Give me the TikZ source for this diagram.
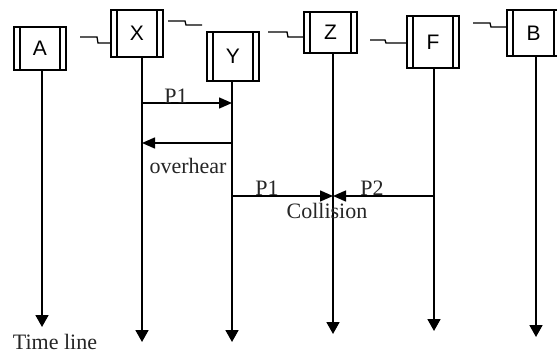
\documentclass[tikz,border=0pt]{standalone}
\usepackage{fontspec}
\setmainfont{Liberation Serif}
\setsansfont{Liberation Sans}
\usetikzlibrary{arrows.meta}
\newcommand\boxbars[1]{%
  \draw[line width=1.6pt] ([xshift=6pt]#1.north west) -- ([xshift=6pt]#1.south west);
  \draw[line width=1.6pt] ([xshift=-6pt]#1.north east) -- ([xshift=-6pt]#1.south east);}
\begin{document}
\begin{tikzpicture}[x=1pt,y=-1pt,
  box/.style={draw, line width=1.3pt, inner sep=0pt, outer sep=0pt,
    font=\sffamily\fontsize{21}{21}\selectfont},
  life/.style={line width=1.8pt, -{Triangle[width=13pt,length=12pt]}},
  msg/.style={line width=1.4pt, -{Triangle[width=11pt,length=13pt]}},
  sig/.style={line width=1.3pt},
  lbl/.style={font=\fontsize{22}{22}\selectfont, text=black!85, inner sep=0pt}]
\clip (0,0) rectangle (557,353);
\useasboundingbox (0,0) rectangle (557,353);
\fill[white] (0,0) rectangle (557,353);

% boxes
\node[box, minimum width=52pt, minimum height=43pt] (A) at (40,48.5) {A};
\node[box, minimum width=52pt, minimum height=47pt] (X) at (137,33.5) {X};
\node[box, minimum width=52pt, minimum height=49pt] (Y) at (233,56.5) {Y};
\node[box, minimum width=53pt, minimum height=41pt] (Z) at (330.5,32.5) {Z};
\node[box, minimum width=52pt, minimum height=52pt] (F) at (433,42) {F};
\node[box, minimum width=53pt, minimum height=46pt] (B) at (533.5,33) {B};
\boxbars{A}\boxbars{X}\boxbars{Y}\boxbars{Z}\boxbars{F}\boxbars{B}

% step signals
\draw[sig] (80,37) -- (97,37) -- (98,43) -- (110,43);
\draw[sig] (168,21) -- (185,21) -- (186,25) -- (202,25);
\draw[sig] (268,32) -- (287,32) -- (288,37) -- (304,37);
\draw[sig] (370,40) -- (385,40) -- (386,43) -- (407,43);
\draw[sig] (473,23) -- (490,23) -- (491,27) -- (507,27);

% lifelines
\coordinate (Ae) at (42,327);
\coordinate (Xe) at (142,342);
\coordinate (Ye) at (232,342);
\coordinate (Ze) at (333,334);
\coordinate (Fe) at (434,331);
\coordinate (Be) at (536,337);
\draw[life] (A.south -| Ae) -- (Ae);
\draw[life] (X.south -| Xe) -- (Xe);
\draw[life] (Y.south -| Ye) -- (Ye);
\draw[life] (Z.south -| Ze) -- (Ze);
\draw[life] (F.south -| Fe) -- (Fe);
\draw[life] (B.south -| Be) -- (Be);

% messages
\coordinate (m1x) at (142,103);
\coordinate (m1y) at (232,103);
\coordinate (m2y) at (232,143);
\coordinate (m2x) at (142,143);
\coordinate (m3y) at (232,196);
\coordinate (m3z) at (333,196);
\coordinate (m4f) at (434,196);
\draw[msg] (m1x) -- (m1y);
\draw[msg] (m2y) -- (m2x);
\draw[msg] (m3y) -- (m3z);
\draw[msg] (m4f) -- (m3z);

% labels
\node[lbl] (p1a) at (176,96) {P1};
\node[lbl] (ovh) at (188,166) {overhear};
\node[lbl] (p1b) at (267,188) {P1};
\node[lbl] (p2) at (372,188) {P2};
\node[lbl] (col) at (327,211) {Collision};
\node[lbl] (tl) at (55,342) {Time line};
\end{tikzpicture}
\end{document}
